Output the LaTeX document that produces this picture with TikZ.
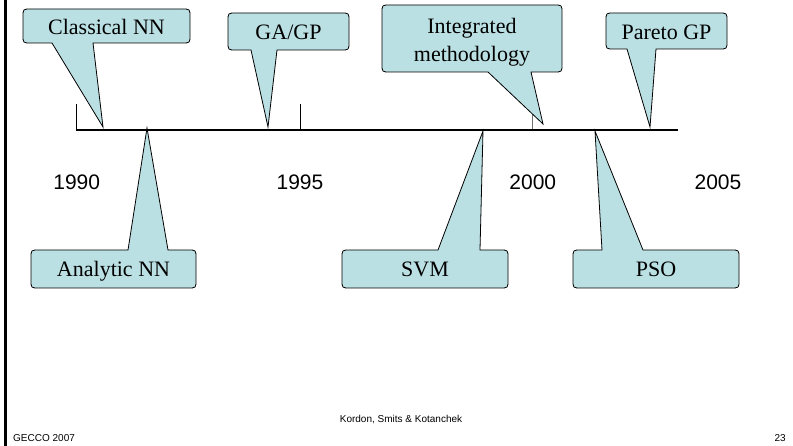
\documentclass[tikz,border=0pt]{standalone}
\usepackage{fontspec}
\setmainfont{Liberation Serif}
\newfontfamily\arialf{Liberation Sans}
\definecolor{calloutfill}{HTML}{BBE0E3}
\newcommand\cornr{8}
% callout with its wedge on the lower edge: x1 y1 x2 y2 baseLeft baseRight tip
\newcommand\calldown[7]{%
  \filldraw[callout] ({#1+\cornr},#2) -- ({#3-\cornr},#2) .. controls (#3,#2) .. (#3,{#2+\cornr})
    -- (#3,{#4-\cornr}) .. controls (#3,#4) .. ({#3-\cornr},#4)
    -- (#6,#4) -- (#7) -- (#5,#4)
    -- ({#1+\cornr},#4) .. controls (#1,#4) .. (#1,{#4-\cornr})
    -- (#1,{#2+\cornr}) .. controls (#1,#2) .. ({#1+\cornr},#2) -- cycle;}
% callout with its wedge on the upper edge
\newcommand\callup[7]{%
  \filldraw[callout] ({#1+\cornr},#2) -- (#5,#2) -- (#7) -- (#6,#2)
    -- ({#3-\cornr},#2) .. controls (#3,#2) .. (#3,{#2+\cornr})
    -- (#3,{#4-\cornr}) .. controls (#3,#4) .. ({#3-\cornr},#4)
    -- ({#1+\cornr},#4) .. controls (#1,#4) .. (#1,{#4-\cornr})
    -- (#1,{#2+\cornr}) .. controls (#1,#2) .. ({#1+\cornr},#2) -- cycle;}
\begin{document}
\begin{tikzpicture}[x=1pt,y=-1pt,
  callout/.style={fill=calloutfill,draw=black,line width=0.8pt,line join=miter},
  ctext/.style={font=\fontsize{22}{28}\selectfont,anchor=base,inner sep=0pt,align=center},
  year/.style={font=\arialf\fontsize{21}{25}\selectfont,anchor=base,inner sep=0pt},
  foot/.style={font=\arialf\fontsize{10}{12}\selectfont,inner sep=0pt},
  axis/.style={line width=2pt},
  tick/.style={line width=0.9pt},
]
\useasboundingbox (0,0) rectangle (793,446);
% left page rule
\draw[line width=3pt] (5,0) -- (5,446);

% timeline and its ticks
\coordinate (tlstart) at (76,130.5);
\coordinate (tlend) at (678,130.5);
\coordinate (t90) at (76,104);
\coordinate (t95) at (300,104);
\coordinate (t00) at (532,104);
\draw[tick] (t90) -- (t90 |- tlstart);
\draw[tick] (t95) -- (t95 |- tlstart);
\draw[tick,draw=black!55] (t00) -- (t00 |- tlstart);

% pointer tips on the timeline
\coordinate (cnnTip) at (103,127);
\coordinate (gaTip) at (268,127);
\coordinate (intTip) at (543,124);
\coordinate (parTip) at (650,127);
\coordinate (anaTip) at (147,128);
\coordinate (svmTip) at (483,131);
\coordinate (psoTip) at (595,131);

% callouts above the line
\calldown{23}{9}{190}{43}{52}{93}{cnnTip}
\calldown{228}{13}{349}{50}{251}{277}{gaTip}
\calldown{382}{5}{562}{72}{488}{531}{intTip}
\calldown{606}{13}{727}{49}{627}{656}{parTip}
% callouts below the line
\callup{31}{250}{196}{288}{128}{168}{anaTip}
\callup{342}{250}{508}{288}{438}{480}{svmTip}
\callup{573}{250}{739}{288}{602}{643}{psoTip}

\draw[axis] (tlstart) -- (tlend);

\node[ctext] (cnn) at (106.5,35) {Classical NN};
\node[ctext] (gagp) at (288.5,40) {GA/GP};
\node[ctext] (intm) at (472,61.7) {Integrated\\methodology};
\node[ctext] (pareto) at (666.5,39.3) {Pareto GP};
\node[ctext] (ann) at (113.5,277) {Analytic NN};
\node[ctext] (svm) at (425,277) {SVM};
\node[ctext] (pso) at (656,277) {PSO};

\node[year] (y90) at (76.7,190) {1990};
\node[year] (y95) at (300,190) {1995};
\node[year] (y00) at (532.8,190) {2000};
\node[year] (y05) at (718,190) {2005};

\node[foot,anchor=base] (authors) at (401,423) {Kordon, Smits \& Kotanchek};
\node[foot,anchor=base west] (conf) at (13,441) {GECCO 2007};
\node[foot,anchor=base east] (page) at (786,441) {23};
\end{tikzpicture}
\end{document}
